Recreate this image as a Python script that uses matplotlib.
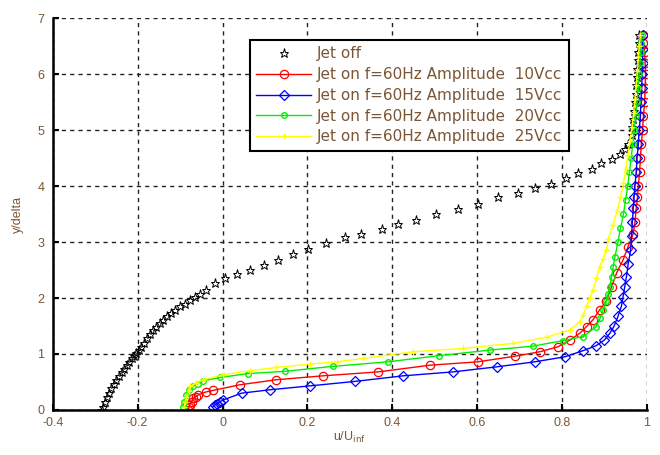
import matplotlib.pyplot as plt

# velocity profiles, y/delta against u/U_inf
off_u = [-0.285, -0.281, -0.277, -0.273, -0.268, -0.262, -0.256, -0.250, -0.244, -0.238,
         -0.232, -0.226, -0.220, -0.214, -0.208, -0.203, -0.197, -0.191, -0.185, -0.179,
         -0.172, -0.164, -0.156, -0.148, -0.140, -0.132, -0.122, -0.112, -0.100, -0.089,
         -0.077, -0.065, -0.052, -0.038, -0.018, 0.005, 0.033, 0.064, 0.097, 0.131,
         0.166, 0.202, 0.245, 0.288, 0.327, 0.375, 0.414, 0.457, 0.504, 0.555,
         0.602, 0.650, 0.697, 0.736, 0.775, 0.810, 0.838, 0.870, 0.893, 0.917,
         0.936, 0.948, 0.956, 0.964, 0.966, 0.968, 0.970, 0.972, 0.974, 0.975,
         0.977, 0.978, 0.979, 0.980, 0.981, 0.982]
off_y = [0.00, 0.06, 0.15, 0.24, 0.31, 0.39, 0.47, 0.54, 0.61, 0.68,
         0.74, 0.80, 0.86, 0.92, 0.97, 1.02, 1.08, 1.13, 1.20, 1.28,
         1.35, 1.43, 1.49, 1.55, 1.61, 1.67, 1.73, 1.79, 1.85, 1.90,
         1.96, 2.02, 2.08, 2.15, 2.26, 2.35, 2.43, 2.50, 2.59, 2.68,
         2.79, 2.87, 2.98, 3.09, 3.14, 3.23, 3.33, 3.40, 3.51, 3.59,
         3.68, 3.80, 3.87, 3.96, 4.04, 4.14, 4.23, 4.30, 4.42, 4.49,
         4.58, 4.67, 4.76, 4.91, 5.05, 5.20, 5.35, 5.50, 5.65, 5.80,
         5.95, 6.10, 6.25, 6.40, 6.55, 6.70]

v10_u = [-0.081, -0.079, -0.077, -0.073, -0.069, -0.063, -0.057, -0.040, -0.022, 0.041,
         0.127, 0.237, 0.367, 0.489, 0.602, 0.689, 0.748, 0.791, 0.819, 0.842,
         0.858, 0.873, 0.889, 0.905, 0.917, 0.929, 0.944, 0.956, 0.968, 0.972,
         0.975, 0.978, 0.980, 0.983, 0.985, 0.987, 0.990, 0.992, 0.995, 0.996,
         0.997, 0.996, 0.995, 0.992, 0.990]
v10_y = [0.00, 0.05, 0.09, 0.15, 0.21, 0.24, 0.27, 0.32, 0.35, 0.45,
         0.54, 0.61, 0.68, 0.80, 0.86, 0.96, 1.04, 1.13, 1.25, 1.37,
         1.49, 1.61, 1.79, 1.95, 2.20, 2.45, 2.68, 2.92, 3.15, 3.35,
         3.60, 3.80, 4.00, 4.25, 4.50, 4.75, 5.00, 5.25, 5.50, 5.75,
         6.00, 6.20, 6.40, 6.55, 6.70]

v15_u = [-0.022, -0.018, -0.014, -0.006, 0.002, 0.045, 0.111, 0.206, 0.312, 0.426,
         0.543, 0.646, 0.736, 0.807, 0.850, 0.881, 0.900, 0.913, 0.923, 0.932,
         0.940, 0.944, 0.948, 0.952, 0.956, 0.962, 0.964, 0.966, 0.968, 0.970,
         0.972, 0.975, 0.977, 0.980, 0.982, 0.985, 0.986, 0.988, 0.989, 0.990,
         0.990, 0.990]
v15_y = [0.06, 0.09, 0.11, 0.15, 0.18, 0.30, 0.36, 0.43, 0.51, 0.61,
         0.68, 0.77, 0.86, 0.95, 1.06, 1.15, 1.25, 1.37, 1.50, 1.67,
         1.85, 2.02, 2.20, 2.38, 2.60, 2.86, 3.10, 3.35, 3.60, 3.80,
         4.00, 4.25, 4.50, 4.75, 5.00, 5.25, 5.50, 5.75, 6.00, 6.20,
         6.45, 6.70]

v20_u = [-0.093, -0.090, -0.085, -0.078, -0.069, -0.058, -0.046, -0.006, 0.060, 0.147,
         0.261, 0.390, 0.510, 0.630, 0.732, 0.803, 0.850, 0.881, 0.890, 0.897,
         0.905, 0.909, 0.913, 0.917, 0.921, 0.925, 0.932, 0.938, 0.945, 0.950,
         0.955, 0.959, 0.963, 0.967, 0.970, 0.974, 0.977, 0.980, 0.982, 0.984,
         0.986, 0.987, 0.988]
v20_y = [0.06, 0.15, 0.27, 0.35, 0.42, 0.47, 0.52, 0.58, 0.65, 0.69,
         0.78, 0.86, 0.97, 1.07, 1.14, 1.24, 1.31, 1.49, 1.64, 1.79,
         1.95, 2.08, 2.20, 2.38, 2.56, 2.74, 3.00, 3.25, 3.50, 3.75,
         4.00, 4.25, 4.50, 4.75, 5.00, 5.25, 5.50, 5.75, 6.00, 6.20,
         6.40, 6.55, 6.70]

v25_u = [-0.090, -0.088, -0.085, -0.080, -0.077, -0.062, -0.046, 0.002, 0.064, 0.127,
         0.206, 0.269, 0.331, 0.449, 0.567, 0.685, 0.764, 0.819, 0.842, 0.850,
         0.858, 0.865, 0.873, 0.881, 0.889, 0.897, 0.905, 0.909, 0.920, 0.930,
         0.938, 0.945, 0.950, 0.955, 0.960, 0.965, 0.969, 0.972, 0.975, 0.978,
         0.980, 0.982, 0.985]
v25_y = [0.06, 0.15, 0.24, 0.33, 0.42, 0.48, 0.54, 0.63, 0.70, 0.76,
         0.82, 0.86, 0.92, 1.04, 1.10, 1.19, 1.30, 1.43, 1.58, 1.70,
         1.85, 2.00, 2.14, 2.35, 2.56, 2.70, 2.86, 3.05, 3.30, 3.55,
         3.80, 4.05, 4.30, 4.55, 4.80, 5.05, 5.30, 5.55, 5.80, 6.05,
         6.30, 6.50, 6.70]

x_ticks = [-0.4, -0.2, 0, 0.2, 0.4, 0.6, 0.8, 1]
x_labels = ["-0.4", "-0.2", "0", "0.2", "0.4", "0.6", "0.8", "1"]
y_ticks = [0, 1, 2, 3, 4, 5, 6, 7]

txt = "#7a5634"
plt.rcParams["font.family"] = ["Liberation Sans", "DejaVu Sans"]

fig = plt.figure(figsize=(6.6, 4.55), dpi=100)
ax = fig.add_axes([0.080, 0.099, 0.900, 0.861])

ax.plot(off_u, off_y, linestyle="none", marker="*", ms=6.5, mfc="none",
        mec="black", mew=0.7, label="Jet off")
ax.plot(v10_u, v10_y, color="red", lw=1.0, marker="o", ms=6, mfc="none",
        mew=0.9, label="Jet on f=60Hz Amplitude  10Vcc")
ax.plot(v15_u, v15_y, color="blue", lw=1.0, marker="D", ms=5, mfc="none",
        mew=0.9, label="Jet on f=60Hz Amplitude  15Vcc")
ax.plot(v20_u, v20_y, color="#00ee00", lw=1.0, marker="o", ms=4, mfc="none",
        mew=1.0, label="Jet on f=60Hz Amplitude  20Vcc")
ax.plot(v25_u, v25_y, color="#ffff00", lw=1.0, marker="+", ms=4,
        mew=1.0, label="Jet on f=60Hz Amplitude  25Vcc")

ax.set_xlim(-0.4, 1)
ax.set_ylim(0, 7)
ax.set_xticks(x_ticks)
ax.set_xticklabels(x_labels)
ax.set_yticks(y_ticks)
ax.tick_params(direction="in", length=4, width=1.5, labelsize=9,
               labelcolor=txt)
ax.tick_params(axis="x", pad=5)
ax.tick_params(axis="y", pad=6)

ax.grid(True, color="#222222", linestyle=(0, (3, 3)), linewidth=1.0)
for side in ["top", "right"]:
    ax.spines[side].set_visible(False)
for side in ["left", "bottom"]:
    ax.spines[side].set_linewidth(1.8)

ax.set_xlabel("u/U$_{\\mathrm{inf}}$", fontsize=9, color=txt, labelpad=1)
ax.set_ylabel("y/delta", fontsize=9, color=txt, labelpad=10)

leg = ax.legend(loc="upper left", bbox_to_anchor=(0.332, 0.944),
                prop={"family": "DejaVu Sans", "size": 11},
                fancybox=False, framealpha=1, edgecolor="black",
                handlelength=3.6, labelspacing=0.38, borderpad=0.4,
                handletextpad=0.4, borderaxespad=0)
leg.get_frame().set_linewidth(1.5)
for t in leg.get_texts():
    t.set_color(txt)

fig.savefig("out.png", dpi=100)
